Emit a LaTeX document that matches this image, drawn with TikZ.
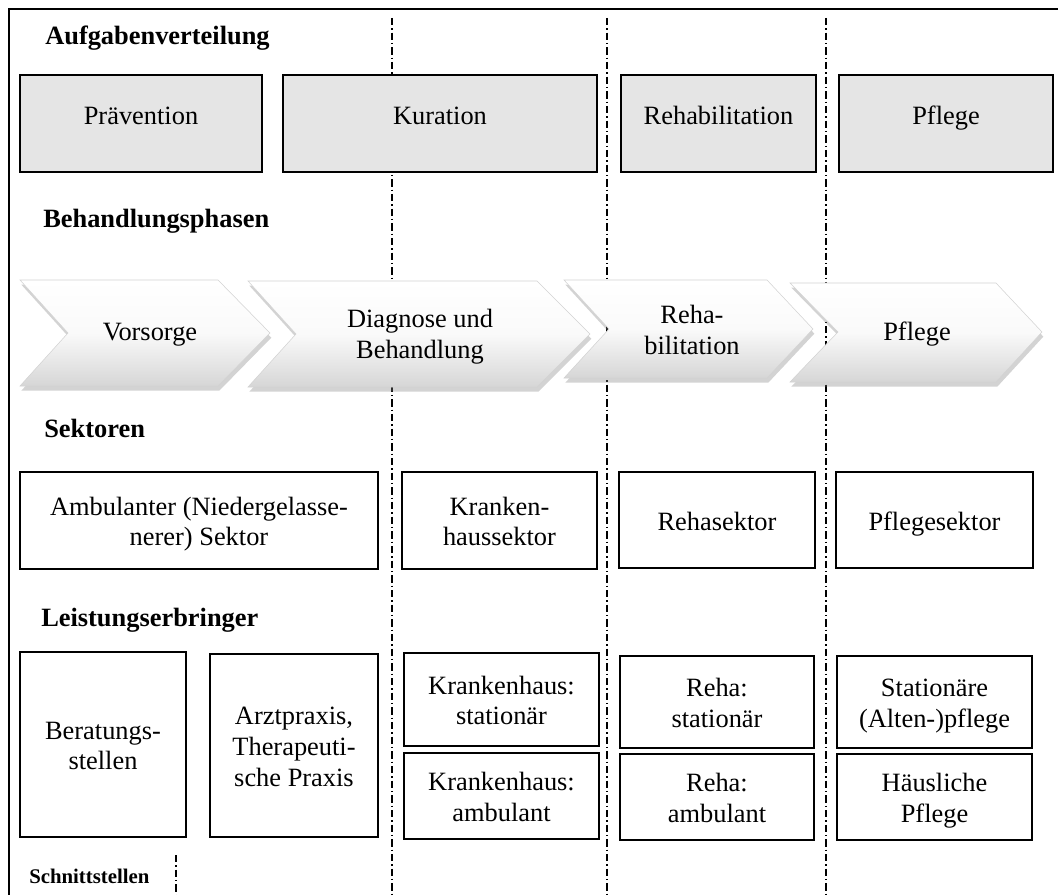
\documentclass[tikz,border=0pt]{standalone}
\usepackage{fontspec}
\setmainfont{Liberation Serif}
\usetikzlibrary{shadows}
\definecolor{boxgray}{HTML}{E5E5E5}
\definecolor{chevgray}{HTML}{D6D6D6}
\newcommand\tst{\rule{0pt}{20pt}}
\newcommand\bst{\rule[-5pt]{0pt}{5pt}}
\begin{document}
\begin{tikzpicture}[x=0.75pt,y=-0.75pt,
  body/.style={font=\fontsize{19.8pt}{23pt}\selectfont},
  rect/.style n args={4}{minimum width={(#3-#1)*0.75pt}, minimum height={(#4-#2)*0.75pt},
    at={({(#1+#3)/2},{(#2+#4)/2})}},
  box/.style={draw=black, line width=2pt, inner sep=0pt, align=center, body},
  graybox/.style={box, fill=boxgray},
  head/.style={font=\fontsize{19.8pt}{23pt}\selectfont\bfseries, anchor=base west, inner sep=0pt},
  smallhead/.style={font=\fontsize{15.6pt}{18pt}\selectfont\bfseries, anchor=base west, inner sep=0pt},
  txt/.style={body, inner sep=0pt, align=center},
  sep/.style={line width=1.5pt, dash pattern=on 5.5pt off 2.2pt on 1.1pt off 2.2pt},
  frame/.style={line width=2.2pt},
  chev/.style={top color=white, bottom color=chevgray, middle color=white!96!gray,
    draw=gray!35, line width=0.4pt,
    drop shadow={shadow xshift=1pt, shadow yshift=-3.5pt, opacity=0.35, fill=gray}}
]
\useasboundingbox (0,0) rectangle (1058,895);

% outer frame (cut off at right and bottom)
\coordinate (fbl) at (9,905);
\coordinate (ftl) at (9,9);
\coordinate (ftr) at (1070,9);
\draw[frame] (fbl) -- (ftl) -- (ftr);

% separator lines (Schnittstellen)
\coordinate (s1t) at (392,18);  \coordinate (s1b) at (392,900);
\coordinate (s2t) at (607,18);  \coordinate (s2b) at (607,900);
\coordinate (s3t) at (826,18);  \coordinate (s3b) at (826,900);
\draw[sep] (s1t) -- (s1b);
\draw[sep] (s2t) -- (s2b);
\draw[sep] (s3t) -- (s3b);

% headings
\node[head] (h1) at (45,45) {Aufgabenverteilung};
\node[head] (h2) at (43,228) {Behandlungsphasen};
\node[head] (h3) at (44,437) {Sektoren};
\node[head] (h4) at (41,626) {Leistungserbringer};

% row 1: Aufgabenverteilung
\node[graybox, rect={20}{75}{262}{172}] (praev) {};
\node[graybox, rect={283}{75}{597}{172}] (kur) {};
\node[graybox, rect={621}{75}{816}{172}] (rehab) {};
\node[graybox, rect={839}{75}{1053}{172}] (pfl) {};
\node[txt, anchor=base] (praevT) at (141,125) {Prävention};
\node[txt, anchor=base] (kurT) at (440,125) {Kuration};
\node[txt, anchor=base] (rehabT) at (718.5,125) {Rehabilitation};
\node[txt, anchor=base] (pflT) at (946,125) {Pflege};

% row 2: Behandlungsphasen (chevrons)
\path[chev] (20,280) -- (218,280) -- (270,333) -- (218,386) -- (20,386) -- (68,333) -- cycle;
\path[chev] (248,281) -- (537,281) -- (590,334) -- (537,387) -- (248,387) -- (296,334) -- cycle;
\path[chev] (564,280) -- (767,280) -- (813,329) -- (767,378) -- (564,378) -- (609,329) -- cycle;
\path[chev] (790,283) -- (996,283) -- (1042,332) -- (996,382) -- (790,382) -- (838,332) -- cycle;
\node[txt, anchor=base] (vors) at (150,340) {Vorsorge};
\node[txt] (diag) at (420,336.5) {Diagnose und\\Behandlung};
\node[txt] (rehaph) at (692,330) {Reha-\\bilitation};
\node[txt, anchor=base] (pflph) at (917,340) {Pflege};

% row 3: Sektoren
\node[box, rect={20}{472}{378}{569}] (amb) {\tst Ambulanter (Niedergelasse-\\nerer) Sektor\bst};
\node[box, rect={402}{472}{597}{569}] (khsek) {\tst Kranken-\\haussektor\bst};
\node[box, rect={619}{472}{815}{568}] (rehasek) {\tst Rehasektor\bst};
\node[box, rect={836}{472}{1033}{568}] (pflsek) {\tst Pflegesektor\bst};

% row 4: Leistungserbringer
\node[box, rect={20}{652}{186}{837}] (berat) {\tst Beratungs-\\stellen\bst};
\node[box, rect={210}{654}{378}{837}] (arzt) {\tst Arztpraxis,\\Therapeuti-\\sche Praxis\bst};
\node[box, rect={404}{653}{599}{746}] (khst) {\tst Krankenhaus:\\stationär\bst};
\node[box, rect={404}{753}{599}{839}] (kham) {\tst Krankenhaus:\\ambulant\bst};
\node[box, rect={620}{656}{814}{748}] (rhst) {\tst Reha:\\stationär\bst};
\node[box, rect={620}{754}{814}{840}] (rham) {\tst Reha:\\ambulant\bst};
\node[box, rect={837}{656}{1032}{748}] (stat) {\tst Stationäre\\(Alten-)pflege\bst};
\node[box, rect={837}{754}{1032}{840}] (haus) {\tst Häusliche\\Pflege\bst};

% legend
\node[smallhead] (schn) at (29,883) {Schnittstellen};
\coordinate (lgt) at (176,855);
\coordinate (lgb) at (176,900);
\draw[sep] (lgt) -- (lgb);
\end{tikzpicture}
\end{document}
